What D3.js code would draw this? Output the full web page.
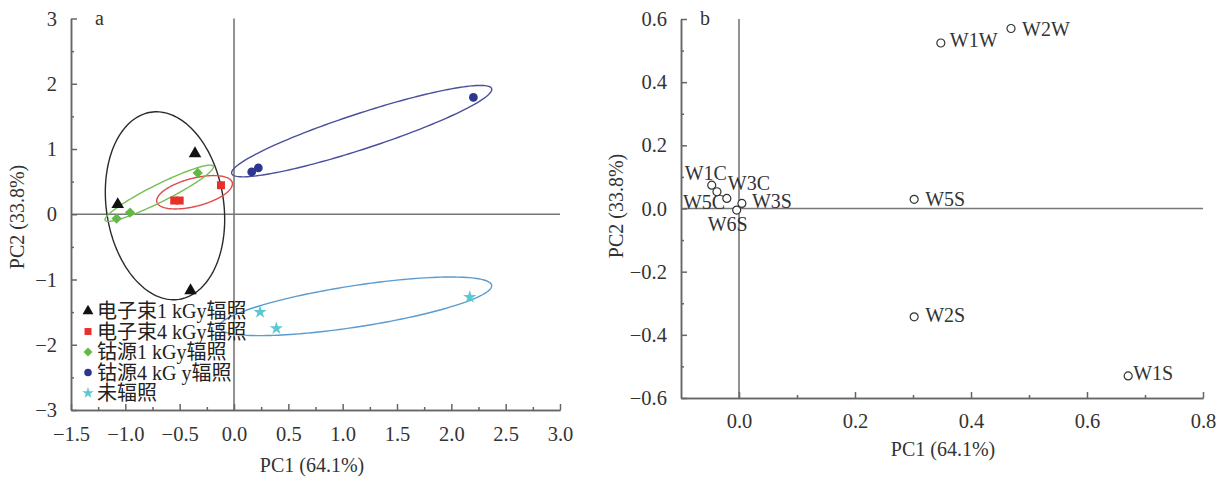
<!DOCTYPE html>
<html>
<head>
<meta charset="utf-8">
<script src="https://cdn.jsdelivr.net/npm/d3@7"></script>
<style>
  body { margin: 0; background: #fff; }
  text { font-family: "Liberation Serif", "Noto Sans CJK SC", serif; fill: #333; }
</style>
</head>
<body>
<script>
// ---- panel a: PCA scores by treatment ----
const groupNames = ["电子束1 kGy辐照", "电子束4 kGy辐照", "钴源1 kGy辐照", "钴源4 kG y辐照", "未辐照"];
const ebeam1X = [-0.359, -1.07, -0.40];
const ebeam1Y = [0.93, 0.15, -1.17];
const ebeam4X = [-0.55, -0.50, -0.12];
const ebeam4Y = [0.21, 0.21, 0.445];
const cobalt1X = [-0.334, -0.957, -1.08];
const cobalt1Y = [0.633, 0.026, -0.066];
const cobalt4X = [0.163, 0.224, 2.203];
const cobalt4Y = [0.649, 0.71, 1.79];
const controlX = [0.24, 0.39, 2.17];
const controlY = [-1.50, -1.75, -1.27];

// confidence ellipses: centre, end of major axis, minor/major ratio
const ellipseCX = [-0.635, -0.363, -0.688, 1.175, 1.117];
const ellipseCY = [0.130, 0.337, 0.322, 1.274, -1.411];
const ellipseTipX = [-0.764, -0.016, -0.19, 2.371, 2.371];
const ellipseTipY = [1.564, 0.486, 0.736, 1.925, -1.089];
const ellipseRatio = [0.62, 0.36, 0.145, 0.13, 0.15];

const aXTicks = [-1.5, -1.0, -0.5, 0.0, 0.5, 1.0, 1.5, 2.0, 2.5, 3.0];
const aXMinor = [-1.25, -0.75, -0.25, 0.25, 0.75, 1.25, 1.75, 2.25, 2.75];
const aYTicks = [-3, -2, -1, 0, 1, 2, 3];
const aYMinor = [-2.5, -1.5, -0.5, 0.5, 1.5, 2.5];

// ---- panel b: loadings ----
const sampleNames = ["W1C", "W5C", "W3C", "W3S", "W6S", "W5S", "W2S", "W1S", "W1W", "W2W"];
const sampleX = [-0.047, -0.038, -0.021, 0.005, -0.004, 0.302, 0.302, 0.671, 0.348, 0.469];
const sampleY = [0.074, 0.053, 0.032, 0.016, -0.005, 0.029, -0.343, -0.530, 0.524, 0.570];

const bXTicks = [0.0, 0.2, 0.4, 0.6, 0.8];
const bXMinor = [0.1, 0.3, 0.5, 0.7];
const bYTicks = [-0.6, -0.4, -0.2, 0.0, 0.2, 0.4, 0.6];
const bYMinor = [-0.5, -0.3, -0.1, 0.1, 0.3, 0.5];

// styles
const groupColor = ["#111111", "#e8302a", "#62b845", "#2c3590", "#5cc8d2"];
const ellipseColor = ["#2a2a2a", "#e24a4a", "#72c050", "#4a509c", "#5a9bd0"];
const groupSymbol = [d3.symbolTriangle, d3.symbolSquare, d3.symbolSquare, d3.symbolCircle, d3.symbolStar];
const groupSize = [68, 64, 52, 60, 55];
const groupRotate = [0, 0, 45, 0, 0];

// label placement for panel b (dx, dy, anchor)
const labelPlace = {
  W1C: [-27, -5, "start"], W5C: [-34, 17, "start"], W3C: [1, -8, "start"],
  W3S: [10, 5, "start"], W6S: [-9, 21, "middle"], W5S: [11, 7, "start"],
  W2S: [11, 5, "start"], W1S: [5, 4, "start"], W1W: [9, 4, "start"], W2W: [11, 8, "start"]
};

const svg = d3.select("body")
  .append("svg")
    .attr("width", 1224)
    .attr("height", 481);

const xa = d3.scaleLinear().domain([-1.5, 3]).range([71, 560]);
const ya = d3.scaleLinear().domain([-3, 3]).range([410, 18.5]);
const xb = d3.scaleLinear().domain([-0.1, 0.8]).range([681, 1203]);
const yb = d3.scaleLinear().domain([-0.6, 0.6]).range([398, 19]);

function styleAxis(g){
  g.attr("font-family", null).attr("font-size", 20.5);
  g.selectAll("path, line").attr("stroke", "#666").attr("stroke-width", 1.5);
  g.selectAll("text").attr("fill", "#2e2e2e");
}

function drawFrame(x, y, xTicks, xMinor, yTicks, yMinor, fmtX, fmtY, xPad){
  const bottom = y.range()[0], top = y.range()[1];
  const left = x.range()[0], right = x.range()[1];

  svg.append("line")
    .attr("x1", x(0)).attr("x2", x(0)).attr("y1", top).attr("y2", bottom)
    .attr("stroke", "#777").attr("stroke-width", 1.6);
  svg.append("line")
    .attr("x1", left).attr("x2", right).attr("y1", y(0)).attr("y2", y(0))
    .attr("stroke", "#777").attr("stroke-width", 1.6);

  svg.append("g")
    .attr("transform", "translate(0," + bottom + ")")
    .call(d3.axisBottom(x).tickValues(xMinor).tickSize(-3).tickSizeOuter(0).tickFormat(""))
    .call(styleAxis);
  svg.append("g")
    .attr("transform", "translate(0," + bottom + ")")
    .call(d3.axisBottom(x).tickValues(xTicks).tickSize(-6).tickSizeOuter(0).tickPadding(xPad).tickFormat(fmtX))
    .call(styleAxis);

  svg.append("g")
    .attr("transform", "translate(" + left + ",0)")
    .call(d3.axisLeft(y).tickValues(yMinor).tickSize(-3).tickSizeOuter(0).tickFormat(""))
    .call(styleAxis);
  svg.append("g")
    .attr("transform", "translate(" + left + ",0)")
    .call(d3.axisLeft(y).tickValues(yTicks).tickSize(-6).tickSizeOuter(0).tickPadding(14).tickFormat(fmtY))
    .call(styleAxis);
}

drawFrame(xa, ya, aXTicks, aXMinor, aYTicks, aYMinor, d3.format(".1f"), d3.format("d"), 16);
drawFrame(xb, yb, bXTicks, bXMinor, bYTicks, bYMinor, d3.format(".1f"), d3.format(".1f"), 15);

// axis titles and panel letters
function title(txt, x, y, rot){
  svg.append("text")
    .attr("transform", "translate(" + x + "," + y + ")" + (rot ? " rotate(-90)" : ""))
    .attr("text-anchor", "middle")
    .style("font-size", "20px")
    .text(txt);
}
title("PC1 (64.1%)", 312, 472, false);
title("PC2 (33.8%)", 24, 217, true);
title("PC1 (64.1%)", 943, 456, false);
title("PC2 (33.8%)", 623, 206, true);
svg.append("text").attr("x", 95).attr("y", 25).style("font-size", "20px").text("a");
svg.append("text").attr("x", 700).attr("y", 25).style("font-size", "20px").text("b");

// ellipses
function ellipsePath(x, y, i){
  const cx = x(ellipseCX[i]), cy = y(ellipseCY[i]);
  const ux = x(ellipseTipX[i]) - cx, uy = y(ellipseTipY[i]) - cy;
  const vx = -uy * ellipseRatio[i], vy = ux * ellipseRatio[i];
  const pts = d3.range(0, 2 * Math.PI, Math.PI / 90).map(t =>
    [cx + Math.cos(t) * ux + Math.sin(t) * vx, cy + Math.cos(t) * uy + Math.sin(t) * vy]);
  return d3.line().curve(d3.curveLinearClosed)(pts);
}

svg.append("g")
  .selectAll("path")
  .data(d3.range(groupNames.length))
  .enter()
  .append("path")
    .attr("d", i => ellipsePath(xa, ya, i))
    .attr("fill", "none")
    .attr("stroke", i => ellipseColor[i])
    .attr("stroke-width", 1.4);

// points
const groupX = [ebeam1X, ebeam4X, cobalt1X, cobalt4X, controlX];
const groupY = [ebeam1Y, ebeam4Y, cobalt1Y, cobalt4Y, controlY];
groupNames.forEach((name, gi) => {
  const sym = d3.symbol().type(groupSymbol[gi]).size(groupSize[gi]);
  svg.append("g")
    .selectAll("path")
    .data(groupX[gi].map((v, k) => [v, groupY[gi][k]]))
    .enter()
    .append("path")
      .attr("d", sym)
      .attr("transform", d => "translate(" + xa(d[0]) + "," + ya(d[1]) + ") rotate(" + groupRotate[gi] + ")")
      .attr("fill", groupColor[gi]);
});

// legend
const legend = svg.append("g").attr("transform", "translate(88,311)");
groupNames.forEach((name, gi) => {
  const row = legend.append("g").attr("transform", "translate(0," + (gi * 20.5) + ")");
  row.append("path")
    .attr("d", d3.symbol().type(groupSymbol[gi]).size(groupSize[gi] * 0.75))
    .attr("transform", "rotate(" + groupRotate[gi] + ")")
    .attr("fill", groupColor[gi]);
  row.append("text")
    .attr("x", 9)
    .attr("y", 7)
    .style("font-size", "20px")
    .style("fill", "#222")
    .text(name);
});

// panel b points and labels
const samples = svg.append("g")
  .selectAll("g")
  .data(sampleNames.map((n, i) => ({ name: n, x: sampleX[i], y: sampleY[i] })))
  .enter()
  .append("g")
    .attr("transform", d => "translate(" + xb(d.x) + "," + yb(d.y) + ")");

samples.append("circle")
  .attr("r", 4)
  .attr("fill", "#fff")
  .attr("stroke", "#333")
  .attr("stroke-width", 1.2);

samples.append("text")
  .attr("x", d => labelPlace[d.name][0])
  .attr("y", d => labelPlace[d.name][1])
  .attr("text-anchor", d => labelPlace[d.name][2])
  .style("font-size", "20px")
  .text(d => d.name);
</script>
</body>
</html>
